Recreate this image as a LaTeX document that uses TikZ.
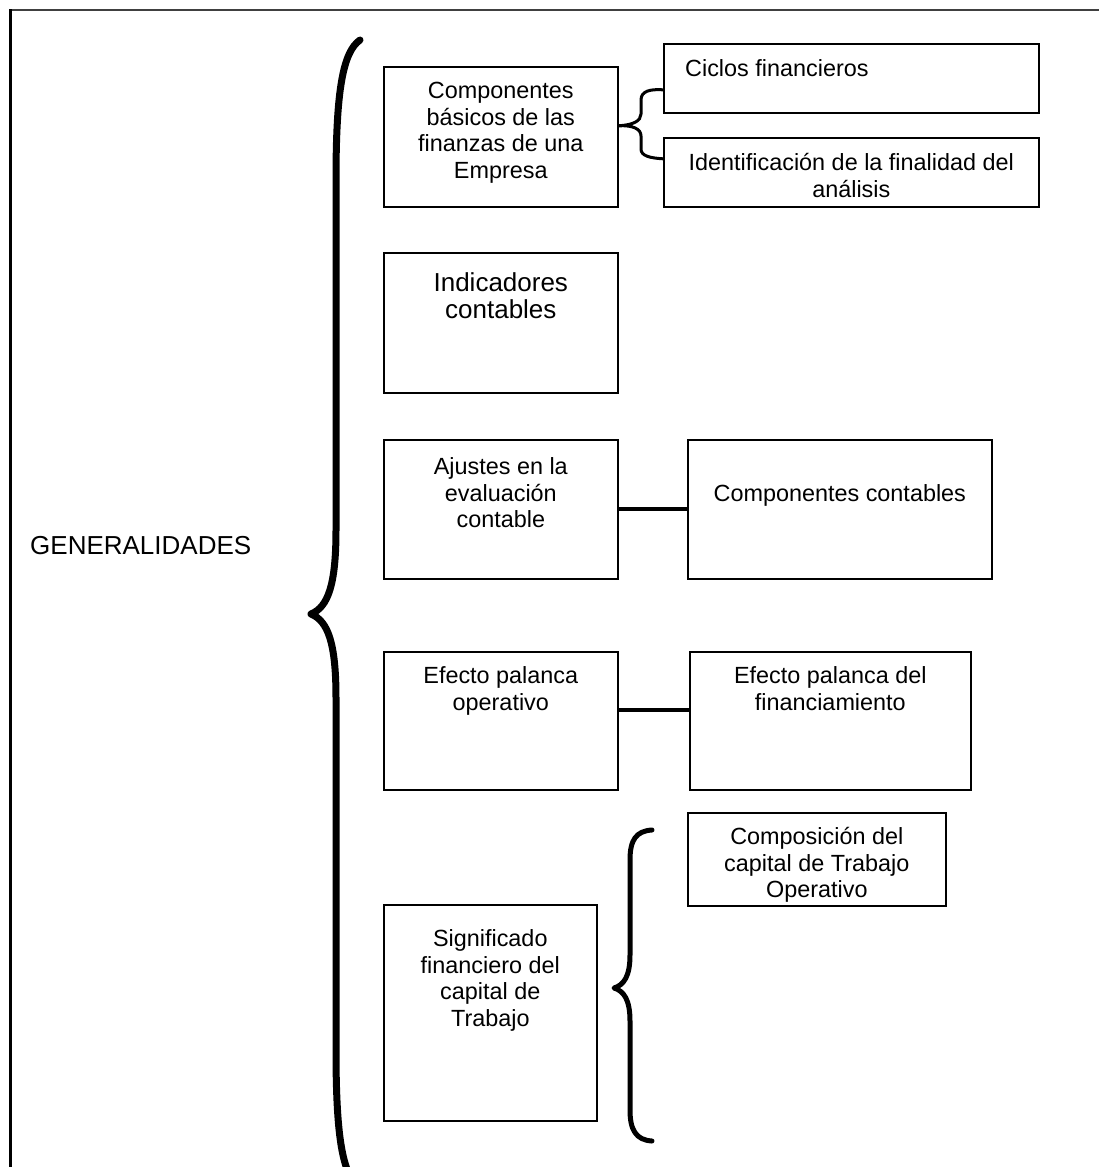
\documentclass[tikz,border=0pt]{standalone}
\usepackage{fontspec}
\setmainfont{Liberation Sans}
\usetikzlibrary{calc}
\begin{document}
\begin{tikzpicture}[x=1pt,y=-1pt,
  box/.style={draw=black, line width=1.6pt, rectangle, inner sep=0pt, anchor=north west},
  txt/.style={anchor=north, align=center, inner sep=0pt, font=\fontsize{23.4}{26.6}\selectfont},
  bigtxt/.style={txt, font=\fontsize{26}{27}\selectfont},
  bracepath/.style={line width=#1, line cap=round, line join=round},
  link/.style={line width=4pt},
]
\useasboundingbox (0,0) rectangle (1099,1167);
\fill[white] (0,0) rectangle (1099,1167);
% outer frame
\draw[line width=2pt, black!75] (10,9.5) -- (1099,9.5);
\draw[line width=2.5pt] (10.5,9) -- (10.5,1167);

% title
\node[bigtxt, anchor=west] (gen) at (30,546) {GENERALIDADES};

% boxes
\node[box, minimum width=234pt, minimum height=140pt] (b1) at (383,66) {};
\node[box, minimum width=375pt, minimum height=69pt] (ci) at (663,43) {};
\node[box, minimum width=375pt, minimum height=69pt] (id) at (663,137) {};
\node[box, minimum width=234pt, minimum height=140pt] (ind) at (383,252) {};
\node[box, minimum width=234pt, minimum height=139pt] (aj) at (383,439) {};
\node[box, minimum width=304pt, minimum height=139pt] (cc) at (687,439) {};
\node[box, minimum width=234pt, minimum height=138pt] (eo) at (383,651) {};
\node[box, minimum width=281pt, minimum height=138pt] (ef) at (689,651) {};
\node[box, minimum width=258pt, minimum height=93pt] (co) at (687,812) {};
\node[box, minimum width=213pt, minimum height=216pt] (si) at (383,904) {};

% texts
\node[txt] (tb1) at ($(b1.north)+(0,13.9)$) {\strut Componentes\\básicos de las\\finanzas de una\\Empresa};
\node[txt, anchor=north west] (tci) at ($(ci.north west)+(22,14.9)$) {\strut Ciclos financieros};
\node[txt] (tid) at ($(id.north)+(0,14.9)$) {\strut Identificación de la finalidad del\\análisis};
\node[bigtxt] (tind) at ($(ind.north)+(0,20.3)$) {\strut Indicadores\\contables};
\node[txt] (taj) at ($(aj.north)+(0,16.9)$) {\strut Ajustes en la\\evaluación\\contable};
\node[txt] (tcc) at ($(cc.north)+(0,43.9)$) {\strut Componentes contables};
\node[txt] (teo) at ($(eo.north)+(0,13.9)$) {\strut Efecto palanca\\operativo};
\node[txt] (tef) at ($(ef.north)+(0,13.9)$) {\strut Efecto palanca del\\financiamiento};
\node[txt] (tco) at ($(co.north)+(0,13.9)$) {\strut Composición del\\capital de Trabajo\\Operativo};
\node[txt] (tsi) at ($(si.north)+(0,23.9)$) {\strut Significado\\financiero del\\capital de\\Trabajo};

% connectors
\draw[link] (aj.east) -- (cc.west);
\draw[link] ([yshift=11pt]eo.east) -- ([yshift=11pt]ef.west);

% small brace 1
\coordinate (s1t) at ([yshift=-11.5pt]ci.west);
\coordinate (s1m) at ([yshift=11pt]b1.east);
\coordinate (s1b) at ([yshift=13.5pt]id.west);
\draw[bracepath=3pt] (s1t) .. controls (650,89) and (641,91) .. (641,100) -- (641,114)
  .. controls (641,121) and (633,125) .. (s1m)
  .. controls (633,125) and (641,129) .. (641,136) -- (641,149)
  .. controls (641,156) and (650,158) .. (s1b);

% big brace
\coordinate (bt) at (360,40);
\coordinate (bm) at (311,614);
\coordinate (bb) at (360,1188);
\draw[bracepath=7pt] (bt) .. controls (343,52) and (336,90) .. (336,180) -- (336,530)
  .. controls (336,585) and (328,607) .. (bm)
  .. controls (328,621) and (336,643) .. (336,698) -- (336,1050)
  .. controls (336,1140) and (343,1176) .. (bb);

% small brace 2
\coordinate (s2t) at (652,830);
\coordinate (s2m) at (614,988);
\coordinate (s2b) at (652,1141);
\draw[bracepath=5pt] (s2t) .. controls (636,831) and (630,840) .. (630,860) -- (630,955)
  .. controls (630,976) and (624,985) .. (s2m)
  .. controls (624,991) and (630,1000) .. (630,1021) -- (630,1110)
  .. controls (630,1130) and (636,1140) .. (s2b);
\end{tikzpicture}
\end{document}
